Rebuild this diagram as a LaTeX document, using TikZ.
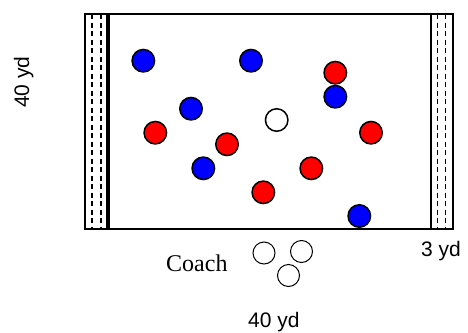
\documentclass[tikz,border=0pt]{standalone}
\usepackage{fontspec}
\setmainfont{Liberation Serif}
\newfontfamily\arialfont{Liberation Sans}
\begin{document}
\begin{tikzpicture}[x=1pt,y=-1pt,
  player/.style={circle,draw=black,line width=1.5pt,minimum size=22.5pt,inner sep=0pt},
  redp/.style={player,fill=red},
  bluep/.style={player,fill=blue},
  whitep/.style={player,fill=white},
  coachp/.style={circle,draw=black,line width=1pt,minimum size=22pt,inner sep=0pt},
  zone/.style={draw=black,line width=2pt,fill=white},
  zonedash/.style={draw=black,line width=1.8pt,dash pattern=on 5pt off 3.5pt},
  field/.style={draw=black,line width=1.6pt},
  sanslabel/.style={font=\arialfont\fontsize{21}{21}\selectfont,inner sep=0pt}
]
\useasboundingbox (0,0) rectangle (468,332);
% field
\node[field,minimum width=322pt,minimum height=215pt,inner sep=0pt,anchor=north west] (fieldbox) at (108,13) {};
% end zones
\node[zone,minimum width=22pt,minimum height=215pt,inner sep=0pt,anchor=north west] (lzone) at (84,13) {};
\node[zone,minimum width=22pt,minimum height=215pt,inner sep=0pt,anchor=north west] (rzone) at (430,13) {};
\coordinate (l1t) at (92.3,14); \coordinate (l1b) at (92.3,227);
\coordinate (l2t) at (100.7,14); \coordinate (l2b) at (100.7,227);
\coordinate (r1t) at (437.5,14); \coordinate (r1b) at (437.5,227);
\coordinate (r2t) at (445.5,14); \coordinate (r2b) at (445.5,227);
\draw[zonedash] (l1t) -- (l1b);
\draw[zonedash] (l2t) -- (l2b);
\draw[zonedash] (r1t) -- (r1b);
\draw[zonedash] (r2t) -- (r2b);
% players
\node[bluep] (b1) at (143.3,60.7) {};
\node[bluep] (b2) at (251,60.7) {};
\node[redp] (r1) at (335.3,72.7) {};
\node[bluep] (b3) at (335.3,96.7) {};
\node[bluep] (b4) at (191,108.7) {};
\node[whitep] (w1) at (276.7,120) {};
\node[redp] (r2) at (155.3,132.7) {};
\node[redp] (r3) at (371,132.7) {};
\node[redp] (r4) at (227,144.3) {};
\node[bluep] (b5) at (203.3,168.3) {};
\node[redp] (r5) at (311.3,168.3) {};
\node[redp] (r6) at (263.3,192.3) {};
\node[bluep] (b6) at (359.3,216) {};
% coaches
\node[coachp] (c1) at (264,253) {};
\node[coachp] (c2) at (301.5,251.5) {};
\node[coachp] (c3) at (288.5,275.5) {};
\node[font=\fontsize{24}{24}\selectfont,inner sep=0pt,anchor=base west] (coach) at (166,271) {Coach};
% labels
\node[sanslabel,anchor=base west] (three) at (421,256) {3 yd};
\node[sanslabel,anchor=base west] (bottom) at (248,327) {40 yd};
\node[sanslabel,anchor=base,rotate=90] (left) at (29,82) {40 yd};
\end{tikzpicture}
\end{document}
